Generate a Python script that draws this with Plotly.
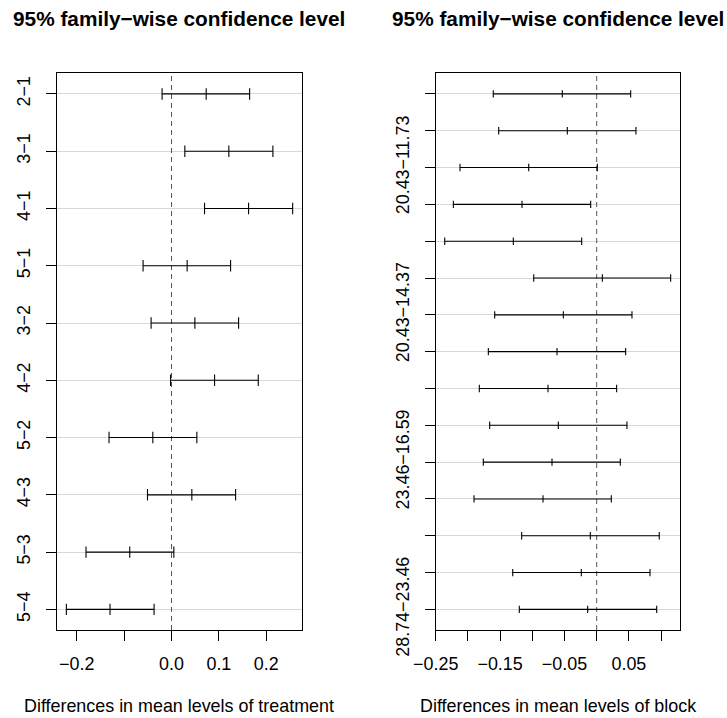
import plotly.graph_objects as go

# Tukey HSD intervals: treatment comparisons
treat_labels = ["2\u22121", "3\u22121", "4\u22121", "5\u22121", "3\u22122",
                "4\u22122", "5\u22122", "4\u22123", "5\u22123", "5\u22124"]
treat_diff = [0.0732, 0.1210, 0.1627, 0.0330, 0.0493, 0.0909, -0.0395, 0.0429, -0.0882, -0.1298]
treat_lwr = [-0.0199, 0.0281, 0.0697, -0.0600, -0.0431, -0.0020, -0.1319, -0.0507, -0.1805, -0.2220]
treat_upr = [0.1649, 0.2140, 0.2557, 0.1247, 0.1416, 0.1831, 0.0535, 0.1353, 0.0049, -0.0368]
treat_ticks = [-0.2, -0.1, 0.0, 0.1, 0.2]
treat_ticktext = ["\u22120.2", "", "0.0", "0.1", "0.2"]

# Tukey HSD intervals: block comparisons
block_labels = ["14.37\u221211.73", "16.59\u221211.73", "20.43\u221211.73", "23.46\u221211.73",
                "28.74\u221211.73", "16.59\u221214.37", "20.43\u221214.37", "23.46\u221214.37",
                "28.74\u221214.37", "20.43\u221216.59", "23.46\u221216.59", "28.74\u221216.59",
                "23.46\u221220.43", "28.74\u221220.43", "28.74\u221223.46"]
block_diff = [-0.0534, -0.0456, -0.1056, -0.1160, -0.1295, 0.0088, -0.0518, -0.0616,
              -0.0756, -0.0596, -0.0694, -0.0834, -0.0099, -0.0239, -0.0140]
block_lwr = [-0.1606, -0.1522, -0.2123, -0.2226, -0.2360, -0.0978, -0.1584, -0.1683,
             -0.1823, -0.1662, -0.1761, -0.1905, -0.1165, -0.1304, -0.1202]
block_upr = [0.0528, 0.0610, 0.0010, -0.0093, -0.0233, 0.1149, 0.0548, 0.0450,
             0.0310, 0.0470, 0.0367, 0.0227, 0.0972, 0.0828, 0.0932]
block_ticks = [-0.25, -0.20, -0.15, -0.10, -0.05, 0.0, 0.05, 0.10]
block_ticktext = ["\u22120.25", "", "\u22120.15", "", "\u22120.05", "", "0.05", ""]

FONT = "Liberation Sans, Arial, Helvetica, sans-serif"
TICK_SIZE = 17.9
W, H = 727, 718
Y_DOMAIN = [1 - 630 / H, 1 - 73.3 / H]
panels = [
    dict(labels=treat_labels, diff=treat_diff, lwr=treat_lwr, upr=treat_upr,
         ticks=treat_ticks, ticktext=treat_ticktext, label_step=1,
         xdomain=[57.3 / W, 301.7 / W], name="treatment"),
    dict(labels=block_labels, diff=block_diff, lwr=block_lwr, upr=block_upr,
         ticks=block_ticks, ticktext=block_ticktext, label_step=4,
         xdomain=[435.7 / W, 679.7 / W], name="block"),
]


def expand(lo, hi, frac=0.04):
    d = (hi - lo) * frac
    return [lo - d, hi + d]


fig = go.Figure()
layout = dict(width=W, height=H, margin=dict(l=0, r=0, t=0, b=0), autosize=False,
              plot_bgcolor="white", paper_bgcolor="white", showlegend=False,
              font=dict(family=FONT, color="black", size=TICK_SIZE), annotations=[])

for k, p in enumerate(panels):
    sfx = "" if k == 0 else str(k + 1)
    xa, ya = "x" + sfx, "y" + sfx
    n = len(p["labels"])
    yvals = [n - i for i in range(n)]
    xr = expand(min(p["lwr"]), max(p["upr"]))
    yr = expand(1, n)

    # dashed reference line at zero
    fig.add_trace(go.Scatter(x=[0, 0], y=yr, mode="lines", xaxis=xa, yaxis=ya,
                             line=dict(color="#555555", width=1, dash="5px,4px"),
                             hoverinfo="skip"))

    # interval segments with end/centre caps at +-0.1 row units
    sx, sy = [], []
    for y, lo, m, hi in zip(yvals, p["lwr"], p["diff"], p["upr"]):
        sx += [lo, hi, None]
        sy += [y, y, None]
        for v in (lo, m, hi):
            sx += [v, v, None]
            sy += [y - 0.1, y + 0.1, None]
    fig.add_trace(go.Scatter(x=sx, y=sy, mode="lines", xaxis=xa, yaxis=ya,
                             line=dict(color="black", width=1.1), hoverinfo="skip"))

    shown = [lab if (n - 1 - i) % p["label_step"] == 0 else "" for i, lab in enumerate(p["labels"])]

    layout["xaxis" + sfx] = dict(domain=p["xdomain"], range=xr, anchor=ya,
                                 tickvals=p["ticks"], ticktext=p["ticktext"],
                                 ticks="outside", ticklen=10, tickwidth=1, tickcolor="black",
                                 showline=True, mirror=True, linecolor="black", linewidth=1,
                                 showgrid=False, zeroline=False, automargin=False,
                                 tickfont=dict(size=TICK_SIZE), ticklabelstandoff=8)
    layout["yaxis" + sfx] = dict(domain=Y_DOMAIN, range=yr, anchor=xa,
                                 tickvals=yvals, ticktext=shown, tickangle=-90,
                                 ticks="outside", ticklen=10, tickwidth=1, tickcolor="black",
                                 showline=True, mirror=True, linecolor="black", linewidth=1,
                                 showgrid=True, gridcolor="#d8d8d8", gridwidth=1,
                                 zeroline=False, automargin=False,
                                 tickfont=dict(size=TICK_SIZE), ticklabelstandoff=9)

    cx = (p["xdomain"][0] + p["xdomain"][1]) / 2
    layout["annotations"].append(dict(
        text="<b>95% family\u2212wise confidence level</b>", x=cx, y=1 - 18.5 / H,
        xref="paper", yref="paper", xanchor="center", yanchor="middle",
        showarrow=False, font=dict(size=20.8, family=FONT)))
    layout["annotations"].append(dict(
        text="Differences in mean levels of " + p["name"], x=cx, y=1 - 705.5 / H,
        xref="paper", yref="paper", xanchor="center", yanchor="middle",
        showarrow=False, font=dict(size=TICK_SIZE, family=FONT)))

fig.update_layout(**layout)
fig.write_html("out.html")
